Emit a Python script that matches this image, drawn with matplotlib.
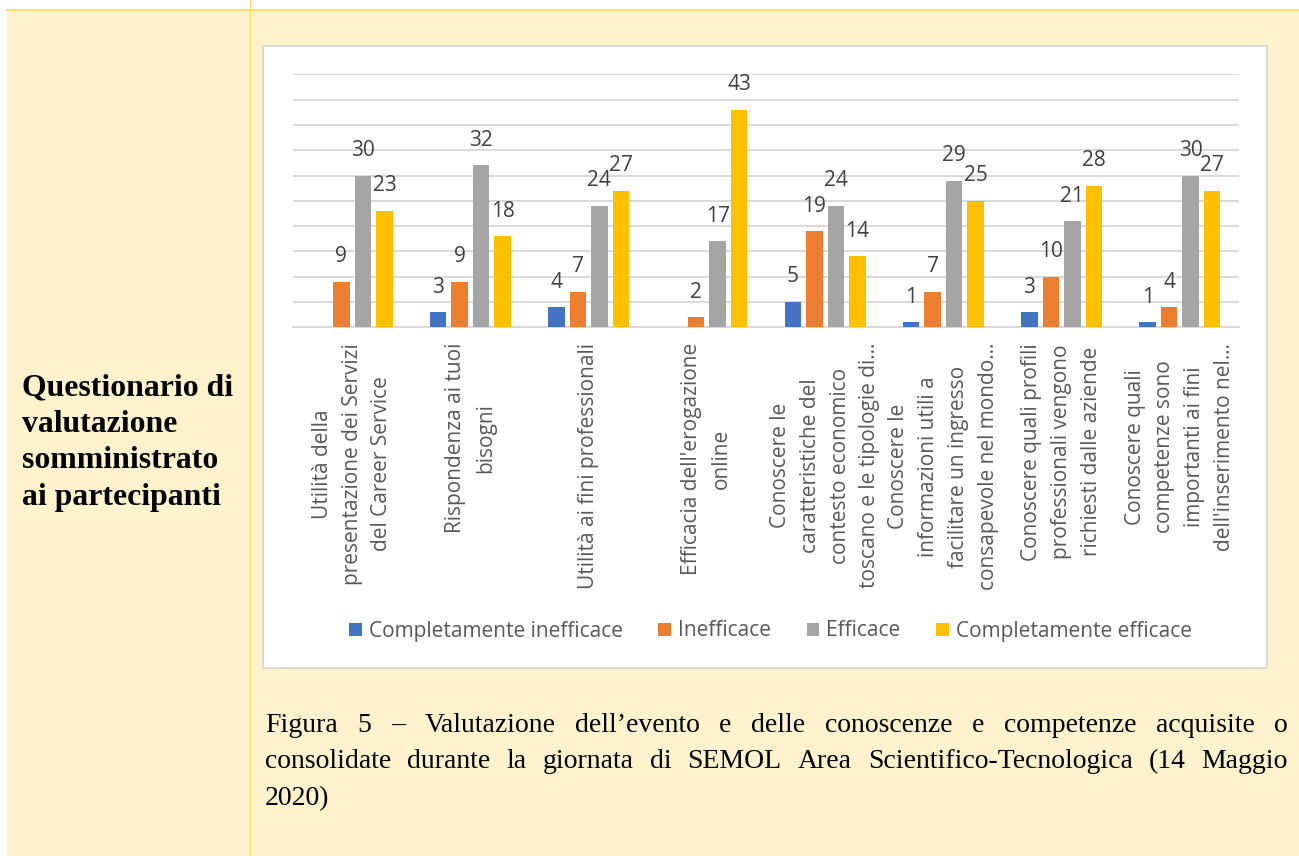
import matplotlib
matplotlib.use("Agg")
import matplotlib.pyplot as plt
from matplotlib.patches import Rectangle
import numpy as np

# --- dati del grafico ---
categorie = [
    "Utilità della\npresentazione dei Servizi\ndel Career Service",
    "Rispondenza ai tuoi\nbisogni",
    "Utilità ai fini professionali",
    "Efficacia dell'erogazione\nonline",
    "Conoscere le\ncaratteristiche del\ncontesto economico\ntoscano e le tipologie di…",
    "Conoscere le\ninformazioni utili a\nfacilitare un ingresso\nconsapevole nel mondo…",
    "Conoscere quali profili\nprofessionali vengono\nrichiesti dalle aziende",
    "Conoscere quali\ncompetenze sono\nimportanti ai fini\ndell'inserimento nel…",
]
serie = ["Completamente inefficace", "Inefficace", "Efficace", "Completamente efficace"]
completamente_inefficace = [0, 3, 4, 0, 5, 1, 3, 1]
inefficace = [9, 9, 7, 2, 19, 7, 10, 4]
efficace = [30, 32, 24, 17, 24, 29, 21, 30]
completamente_efficace = [23, 18, 27, 43, 14, 25, 28, 27]
colori = ["#4472C4", "#ED7D31", "#A5A5A5", "#FFC000"]

titolo_cella = ["Questionario di", "valutazione", "somministrato", "ai partecipanti"]
didascalia = [
    "Figura 5 – Valutazione dell’evento e delle conoscenze e competenze acquisite o",
    "consolidate durante la giornata di SEMOL Area Scientifico-Tecnologica (14 Maggio",
    "2020)",
]

W, H = 1299, 856
GIALLO = "#FFF2CC"
BORDO = "#FFD966"
GRIGIO = "#D9D9D9"

fig = plt.figure(figsize=(W / 100, H / 100), dpi=100)
fig.patch.set_facecolor(GIALLO)

# sfondo della pagina in coordinate pixel
bg = fig.add_axes([0, 0, 1, 1], zorder=0)
bg.set_xlim(0, W)
bg.set_ylim(H, 0)
bg.axis("off")
bg.add_patch(Rectangle((0, 0), W, 10, color="white", lw=0))
bg.add_patch(Rectangle((0, 0), 7, H, color="white", lw=0))
bg.plot([7, W], [10, 10], color=BORDO, lw=1.3)
bg.plot([250, 250], [0, H], color=BORDO, lw=1.0)
# riquadro bianco del grafico
bg.add_patch(Rectangle((263.5, 45.5), 1004, 622, facecolor="white",
                       edgecolor=GRIGIO, lw=1.4))

# testo della cella di sinistra
for i, riga in enumerate(titolo_cella):
    bg.text(22, 395 + i * 36.6, riga, family="Liberation Serif", weight="bold",
            fontsize=22.9, va="baseline", ha="left", color="black")

# didascalia giustificata
fig.canvas.draw()
rend = fig.canvas.get_renderer()


def riga_giustificata(parole, x0, x1, y, giustifica=True, **kw):
    testi = [bg.text(0, y, p, va="baseline", ha="left", **kw) for p in parole]
    larghezze = [t.get_window_extent(rend).width for t in testi]
    if giustifica and len(parole) > 1:
        spazio = (x1 - x0 - sum(larghezze)) / (len(parole) - 1)
    else:
        spazio = testi[0].get_window_extent(rend).height * 0.25
    x = x0
    for t, w in zip(testi, larghezze):
        t.set_x(x)
        x += w + spazio


for i, riga in enumerate(didascalia):
    ultima = i == len(didascalia) - 1
    riga_giustificata(riga.split(" "), 265, 1288, 731.5 + i * 36.6,
                      giustifica=not ultima, family="Liberation Serif",
                      fontsize=20, color="black")

# --- grafico a barre ---
ax = fig.add_axes([293 / W, 1 - 327.3 / H, 946 / W, 253 / H], zorder=2)
ax.patch.set_alpha(0)

x = np.arange(len(categorie))
larghezza = 0.141
passo = 0.182
valori = [completamente_inefficace, inefficace, efficace, completamente_efficace]
barre = []
for k, (nome, vals, col) in enumerate(zip(serie, valori, colori)):
    pos = x + (k - 1.5) * passo
    b = ax.bar(pos, vals, width=larghezza, color=col, label=nome, zorder=3)
    barre.append(b)
    for xi, v in zip(pos, vals):
        if v == 0:
            continue
        ax.annotate(str(v), (xi, v), xytext=(0, 18), textcoords="offset points",
                    ha="center", va="center", fontsize=15, color="#404040",
                    family="Open Sans", zorder=4)

ax.set_xlim(-0.5, len(categorie) - 0.5)
ax.set_ylim(0, 50)
ax.set_yticks(np.arange(0, 51, 5))
ax.yaxis.grid(True, color=GRIGIO, lw=1.4, zorder=0)
ax.set_axisbelow(True)
ax.tick_params(axis="y", left=False, labelleft=False)
for lato in ["top", "left", "right"]:
    ax.spines[lato].set_visible(False)
ax.spines["bottom"].set_color(GRIGIO)
ax.spines["bottom"].set_linewidth(1.4)

ax.set_xticks(x)
ax.set_xticklabels(categorie, rotation=90, ha="center", va="top",
                   multialignment="center", linespacing=1.55,
                   fontsize=15, color="#595959", family="Open Sans")
ax.tick_params(axis="x", length=0, pad=11.3)

fig.legend(handles=barre, labels=serie, loc="center",
           bbox_to_anchor=(770.5 / W, 1 - 631 / H), ncol=4, frameon=False,
           prop={"family": "Open Sans", "size": 15}, labelcolor="#595959",
           handlelength=0.6, handleheight=0.6, handletextpad=0.35,
           columnspacing=1.7)

fig.savefig("out.png", dpi=100, facecolor=fig.get_facecolor())
